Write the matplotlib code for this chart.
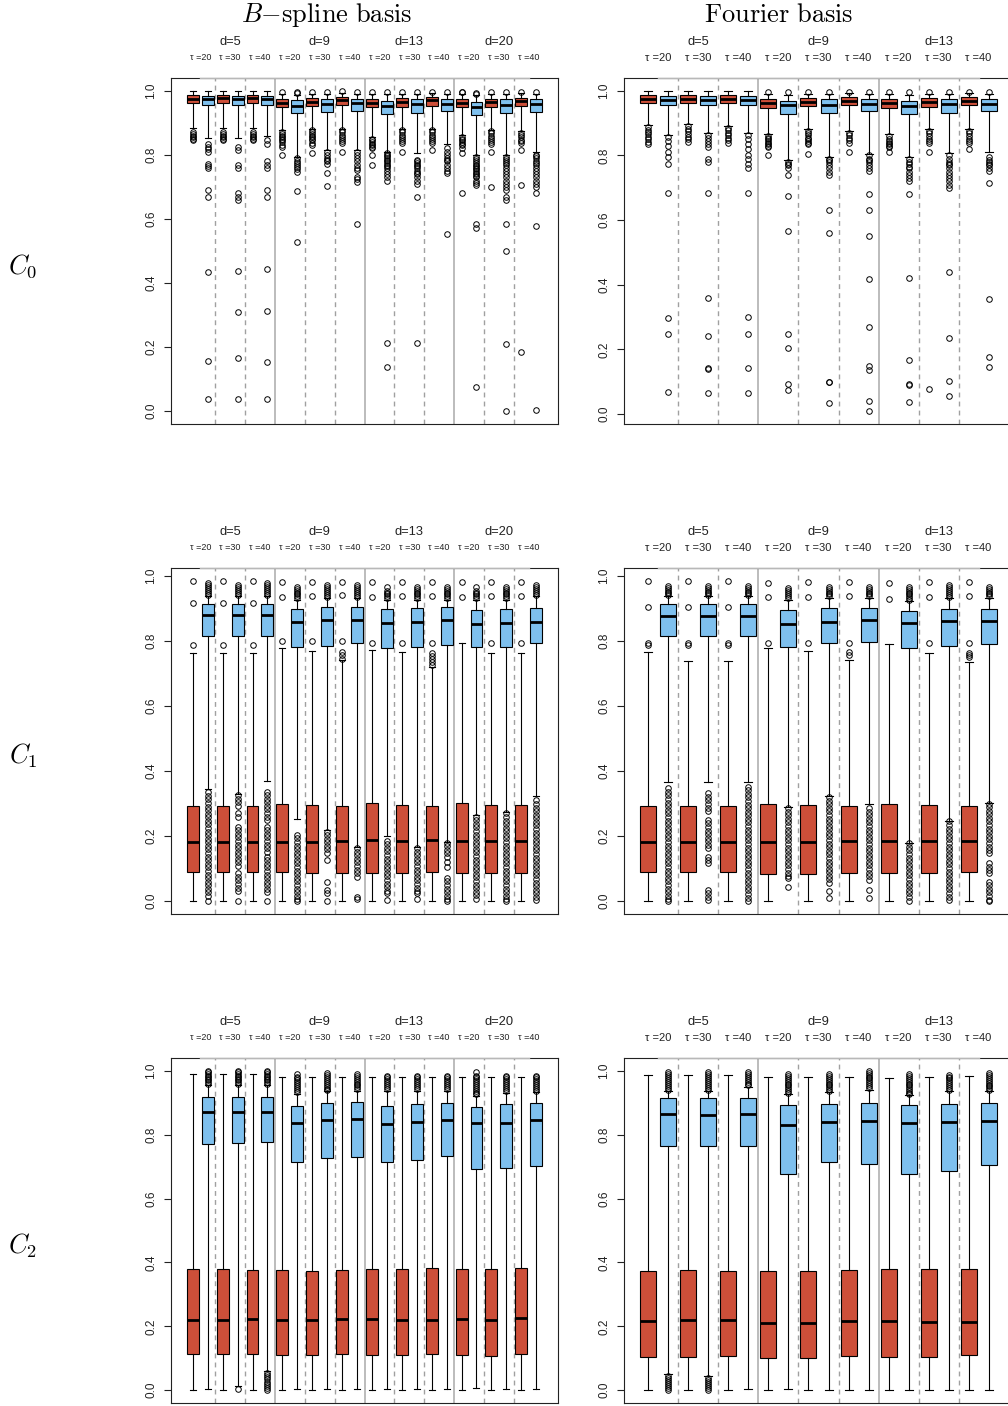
import matplotlib
matplotlib.use("Agg")
import matplotlib.pyplot as plt

plt.rcParams["font.family"] = ["Liberation Sans", "DejaVu Sans"]
plt.rcParams["mathtext.fontset"] = "cm"

RED = "#CD4F39"
BLUE = "#7EC0EE"

D_BSPLINE = [5, 9, 13, 20]
D_FOURIER = [5, 9, 13]
TAUS = [20, 30, 40]
ROW_LABELS = [r"$C_0$", r"$C_1$", r"$C_2$"]
TITLES = [r"$B\mathrm{-spline\ basis}$", r"$\mathrm{Fourier\ basis}$"]

# box stats per (d, tau) group: (whisker low, q1, median, q3, whisker high)
# ---------------- C0 ----------------
C0_BS_RED = [
    (0.884, 0.963, 0.976, 0.988, 1.0), (0.884, 0.963, 0.977, 0.988, 1.0), (0.884, 0.963, 0.977, 0.988, 1.0),
    (0.877, 0.948, 0.961, 0.974, 0.99), (0.882, 0.952, 0.965, 0.979, 0.99), (0.882, 0.955, 0.970, 0.981, 0.992),
    (0.856, 0.948, 0.962, 0.974, 0.99), (0.882, 0.950, 0.966, 0.978, 0.99), (0.882, 0.953, 0.970, 0.981, 0.992),
    (0.861, 0.948, 0.962, 0.973, 0.99), (0.877, 0.950, 0.965, 0.976, 0.99), (0.874, 0.952, 0.967, 0.979, 0.992),
]
C0_BS_RED_OUT = [
    [0.872, 0.866, 0.86, 0.855, 0.85, 0.845],
    [0.872, 0.866, 0.86, 0.855, 0.85, 0.845],
    [0.872, 0.866, 0.86, 0.855, 0.85, 0.845],
    [0.997, 0.872, 0.866, 0.86, 0.855, 0.85, 0.845, 0.84, 0.832, 0.825, 0.80],
    [0.996, 0.877, 0.87, 0.865, 0.86, 0.855, 0.85, 0.845, 0.838, 0.832, 0.806],
    [0.998, 0.877, 0.87, 0.863, 0.856, 0.85, 0.843, 0.836, 0.81],
    [0.996, 0.85, 0.845, 0.84, 0.835, 0.83, 0.825, 0.82, 0.80, 0.768],
    [0.996, 0.877, 0.87, 0.863, 0.856, 0.85, 0.843, 0.836, 0.81],
    [0.997, 0.877, 0.87, 0.863, 0.856, 0.85, 0.843, 0.836, 0.815],
    [0.997, 0.995, 0.856, 0.85, 0.845, 0.84, 0.835, 0.83, 0.82, 0.805, 0.68],
    [0.997, 0.875, 0.868, 0.86, 0.853, 0.846, 0.84, 0.835, 0.81, 0.70],
    [0.997, 0.869, 0.862, 0.855, 0.848, 0.842, 0.836, 0.815, 0.706, 0.184],
]
C0_BS_BLUE = [
    (0.854, 0.955, 0.973, 0.984, 1.0), (0.854, 0.955, 0.973, 0.984, 1.0), (0.858, 0.955, 0.973, 0.984, 1.0),
    (0.794, 0.931, 0.952, 0.970, 0.986), (0.815, 0.934, 0.958, 0.974, 0.99), (0.815, 0.937, 0.963, 0.976, 0.99),
    (0.81, 0.929, 0.952, 0.968, 0.99), (0.805, 0.932, 0.958, 0.974, 0.99), (0.834, 0.937, 0.960, 0.976, 0.99),
    (0.80, 0.926, 0.951, 0.965, 0.988), (0.80, 0.931, 0.957, 0.973, 0.99), (0.81, 0.934, 0.960, 0.973, 0.99),
]
C0_BS_BLUE_OUT = [
    [0.834, 0.826, 0.818, 0.81, 0.773, 0.765, 0.758, 0.69, 0.67, 0.435, 0.157, 0.037],
    [0.825, 0.815, 0.77, 0.76, 0.68, 0.67, 0.66, 0.439, 0.309, 0.165, 0.037],
    [0.845, 0.835, 0.78, 0.77, 0.76, 0.69, 0.67, 0.443, 0.314, 0.153, 0.037],
    [0.996, 0.993, 0.789, 0.782, 0.776, 0.77, 0.762, 0.755, 0.747, 0.688, 0.528],
    [0.995, 0.81, 0.80, 0.79, 0.785, 0.78, 0.773, 0.742, 0.704],
    [0.996, 0.81, 0.80, 0.79, 0.78, 0.77, 0.76, 0.753, 0.732, 0.724, 0.716, 0.585],
    [0.995, 0.805, 0.80, 0.795, 0.79, 0.785, 0.78, 0.775, 0.77, 0.765, 0.76, 0.75, 0.74, 0.73, 0.72, 0.214, 0.139],
    [0.995, 0.784, 0.78, 0.775, 0.77, 0.765, 0.76, 0.75, 0.745, 0.74, 0.73, 0.72, 0.71, 0.667, 0.214],
    [0.995, 0.82, 0.81, 0.80, 0.79, 0.785, 0.78, 0.77, 0.76, 0.75, 0.742, 0.552],
    [0.993, 0.99, 0.794, 0.788, 0.78, 0.775, 0.77, 0.765, 0.76, 0.755, 0.75, 0.745, 0.74, 0.735, 0.73,
     0.72, 0.712, 0.706, 0.585, 0.571, 0.076],
    [0.995, 0.794, 0.788, 0.78, 0.775, 0.77, 0.76, 0.75, 0.74, 0.73, 0.72, 0.71, 0.70, 0.69, 0.667, 0.66,
     0.585, 0.50, 0.21, 0.0],
    [0.995, 0.80, 0.795, 0.79, 0.78, 0.775, 0.77, 0.76, 0.75, 0.74, 0.73, 0.72, 0.71, 0.70, 0.68, 0.578, 0.003],
]
C0_FO_RED = [
    (0.893, 0.963, 0.976, 0.986, 1.0), (0.898, 0.963, 0.976, 0.986, 1.0), (0.89, 0.963, 0.976, 0.986, 1.0),
    (0.866, 0.948, 0.962, 0.974, 0.99), (0.882, 0.952, 0.966, 0.979, 0.99), (0.876, 0.955, 0.970, 0.981, 0.992),
    (0.866, 0.948, 0.962, 0.974, 0.99), (0.882, 0.950, 0.966, 0.979, 0.99), (0.882, 0.955, 0.970, 0.981, 0.992),
]
C0_FO_RED_OUT = [
    [0.888, 0.88, 0.872, 0.865, 0.858, 0.85, 0.843, 0.836],
    [0.89, 0.882, 0.875, 0.866, 0.858, 0.85, 0.842],
    [0.885, 0.878, 0.87, 0.862, 0.855, 0.848, 0.84],
    [0.996, 0.86, 0.855, 0.85, 0.845, 0.84, 0.835, 0.83, 0.825, 0.80],
    [0.997, 0.877, 0.87, 0.862, 0.855, 0.85, 0.845, 0.84, 0.835, 0.806],
    [0.997, 0.87, 0.862, 0.855, 0.848, 0.84, 0.81],
    [0.996, 0.86, 0.85, 0.845, 0.84, 0.835, 0.83, 0.825, 0.81],
    [0.997, 0.876, 0.868, 0.86, 0.852, 0.845, 0.838, 0.81, 0.079],
    [0.997, 0.876, 0.868, 0.86, 0.852, 0.845, 0.838, 0.82],
]
C0_FO_BLUE = [
    (0.862, 0.955, 0.973, 0.984, 1.0), (0.869, 0.955, 0.973, 0.984, 1.0), (0.869, 0.955, 0.973, 0.984, 1.0),
    (0.786, 0.929, 0.955, 0.970, 0.988), (0.796, 0.932, 0.957, 0.974, 0.99), (0.805, 0.937, 0.960, 0.974, 0.99),
    (0.794, 0.927, 0.952, 0.970, 0.988), (0.807, 0.932, 0.958, 0.974, 0.99), (0.81, 0.937, 0.960, 0.974, 0.99),
]
C0_FO_BLUE_OUT = [
    [0.856, 0.846, 0.828, 0.81, 0.794, 0.773, 0.685, 0.297, 0.247, 0.068],
    [0.862, 0.855, 0.845, 0.835, 0.825, 0.79, 0.78, 0.685, 0.359, 0.242, 0.143, 0.14, 0.065],
    [0.862, 0.85, 0.835, 0.82, 0.80, 0.79, 0.775, 0.76, 0.685, 0.30, 0.247, 0.144, 0.065],
    [0.996, 0.78, 0.775, 0.77, 0.76, 0.74, 0.675, 0.566, 0.247, 0.203, 0.094, 0.075],
    [0.996, 0.79, 0.785, 0.78, 0.77, 0.76, 0.75, 0.74, 0.631, 0.559, 0.10, 0.098, 0.035],
    [0.996, 0.80, 0.79, 0.785, 0.78, 0.77, 0.76, 0.753, 0.682, 0.631, 0.552, 0.417, 0.268, 0.149, 0.135, 0.04, 0.009],
    [0.996, 0.788, 0.78, 0.775, 0.765, 0.76, 0.75, 0.74, 0.73, 0.72, 0.68, 0.42, 0.168, 0.094, 0.09, 0.038],
    [0.996, 0.80, 0.79, 0.78, 0.775, 0.77, 0.76, 0.75, 0.74, 0.73, 0.72, 0.71, 0.70, 0.439, 0.234, 0.102, 0.055],
    [0.996, 0.794, 0.785, 0.78, 0.775, 0.77, 0.76, 0.753, 0.716, 0.355, 0.177, 0.146],
]

# ---------------- C1 ----------------
C1_BS_RED = [
    (0.0, 0.089, 0.181, 0.293, 0.762), (0.0, 0.089, 0.181, 0.293, 0.762), (0.0, 0.089, 0.181, 0.293, 0.762),
    (0.0, 0.089, 0.183, 0.298, 0.779), (0.0, 0.086, 0.183, 0.296, 0.769), (0.0, 0.086, 0.186, 0.293, 0.741),
    (0.0, 0.086, 0.188, 0.301, 0.772), (0.0, 0.086, 0.186, 0.296, 0.765), (0.0, 0.089, 0.188, 0.293, 0.721),
    (0.0, 0.086, 0.186, 0.301, 0.793), (0.0, 0.086, 0.186, 0.296, 0.764), (0.0, 0.086, 0.186, 0.296, 0.762),
]
C1_BS_RED_OUT = [
    [0.984, 0.918, 0.788], [0.985, 0.918, 0.788], [0.985, 0.918, 0.788],
    [0.98, 0.936, 0.80], [0.982, 0.939, 0.80], [0.982, 0.941, 0.80, 0.767, 0.757, 0.746],
    [0.98, 0.934, 0.793], [0.982, 0.937, 0.795], [0.982, 0.937, 0.795, 0.764, 0.755, 0.745, 0.735, 0.726],
    [0.98, 0.934], [0.98, 0.937, 0.795], [0.982, 0.937, 0.795],
]
C1_BS_BLUE = [
    (0.344, 0.816, 0.880, 0.915, 0.938), (0.330, 0.816, 0.880, 0.915, 0.938), (0.371, 0.816, 0.880, 0.915, 0.938),
    (0.254, 0.782, 0.857, 0.897, 0.927), (0.219, 0.786, 0.863, 0.903, 0.932), (0.168, 0.793, 0.866, 0.903, 0.932),
    (0.199, 0.777, 0.854, 0.897, 0.927), (0.168, 0.780, 0.859, 0.900, 0.927), (0.183, 0.788, 0.864, 0.903, 0.927),
    (0.265, 0.780, 0.852, 0.895, 0.927), (0.275, 0.782, 0.856, 0.897, 0.927), (0.324, 0.793, 0.859, 0.900, 0.938),
]
C1_BS_BLUE_OUT = [
    [0.977, 0.971, 0.965, 0.959, 0.953, 0.947, 0.942,
     0.335, 0.324, 0.313, 0.302, 0.291, 0.28, 0.269, 0.258, 0.247, 0.236, 0.225, 0.214, 0.203, 0.192, 0.181,
     0.17, 0.159, 0.148, 0.137, 0.126, 0.115, 0.104, 0.093, 0.082, 0.071, 0.06, 0.049, 0.038, 0.027, 0.016, 0.0],
    [0.972, 0.966, 0.96, 0.954, 0.948, 0.942,
     0.326, 0.315, 0.304, 0.293, 0.27, 0.258, 0.229, 0.218, 0.207, 0.196, 0.185, 0.174, 0.163, 0.152, 0.141,
     0.13, 0.119, 0.108, 0.086, 0.075, 0.064, 0.053, 0.042, 0.031, 0.0],
    [0.977, 0.971, 0.965, 0.959, 0.953, 0.947, 0.942,
     0.337, 0.326, 0.315, 0.304, 0.293, 0.282, 0.271, 0.26, 0.25, 0.229, 0.218, 0.207, 0.196, 0.185, 0.174,
     0.163, 0.152, 0.137, 0.126, 0.115, 0.104, 0.093, 0.082, 0.071, 0.06, 0.049, 0.038, 0.027, 0.0],
    [0.967, 0.961, 0.955, 0.949, 0.943, 0.937, 0.931,
     0.204, 0.193, 0.182, 0.171, 0.16, 0.149, 0.138, 0.127, 0.116, 0.105, 0.094, 0.083, 0.072, 0.061, 0.05,
     0.039, 0.028, 0.017, 0.006, 0.0],
    [0.972, 0.966, 0.96, 0.954, 0.948, 0.942, 0.936,
     0.214, 0.203, 0.192, 0.181, 0.17, 0.159, 0.148, 0.128, 0.06, 0.035, 0.025, 0.0],
    [0.972, 0.966, 0.96, 0.954, 0.948, 0.942, 0.936,
     0.163, 0.152, 0.141, 0.13, 0.119, 0.108, 0.097, 0.086, 0.075, 0.014, 0.006],
    [0.967, 0.955, 0.949, 0.943, 0.937, 0.931,
     0.186, 0.175, 0.164, 0.153, 0.142, 0.131, 0.12, 0.109, 0.098, 0.087, 0.076, 0.065, 0.054, 0.043, 0.032,
     0.025, 0.004],
    [0.967, 0.961, 0.955, 0.949, 0.943, 0.937, 0.931,
     0.163, 0.152, 0.141, 0.13, 0.119, 0.108, 0.097, 0.086, 0.075, 0.064, 0.053, 0.042, 0.031, 0.025, 0.006],
    [0.967, 0.961, 0.955, 0.949, 0.943, 0.937, 0.931,
     0.18, 0.169, 0.158, 0.147, 0.136, 0.12, 0.105, 0.072, 0.061, 0.05, 0.039, 0.028, 0.017, 0.006, 0.0],
    [0.967, 0.955, 0.949, 0.943, 0.937, 0.931,
     0.26, 0.249, 0.238, 0.227, 0.216, 0.205, 0.194, 0.183, 0.172, 0.161, 0.15, 0.139, 0.128, 0.117, 0.106,
     0.095, 0.084, 0.073, 0.062, 0.051, 0.04, 0.029, 0.018, 0.008],
    [0.967, 0.961, 0.955, 0.949, 0.943, 0.937, 0.931,
     0.27, 0.259, 0.248, 0.237, 0.226, 0.215, 0.204, 0.193, 0.182, 0.171, 0.16, 0.149, 0.138, 0.127, 0.116,
     0.105, 0.094, 0.083, 0.072, 0.061, 0.05, 0.039, 0.028, 0.017, 0.006, 0.0],
    [0.972, 0.966, 0.96, 0.955, 0.948, 0.942,
     0.31, 0.299, 0.288, 0.277, 0.266, 0.255, 0.244, 0.233, 0.222, 0.211, 0.2, 0.189, 0.178, 0.167, 0.156,
     0.145, 0.134, 0.123, 0.112, 0.101, 0.09, 0.079, 0.068, 0.057, 0.046, 0.035, 0.024, 0.013, 0.004],
]
C1_FO_RED = [
    (0.0, 0.089, 0.181, 0.293, 0.767), (0.0, 0.089, 0.181, 0.293, 0.739), (0.0, 0.089, 0.181, 0.293, 0.739),
    (0.0, 0.084, 0.183, 0.298, 0.777), (0.0, 0.084, 0.183, 0.295, 0.770), (0.0, 0.086, 0.185, 0.293, 0.741),
    (0.0, 0.086, 0.185, 0.298, 0.790), (0.0, 0.086, 0.185, 0.295, 0.762), (0.0, 0.089, 0.186, 0.293, 0.736),
]
C1_FO_RED_OUT = [
    [0.985, 0.905, 0.795, 0.788], [0.985, 0.905, 0.795, 0.788], [0.985, 0.905, 0.795, 0.788],
    [0.977, 0.934, 0.795], [0.98, 0.936, 0.795], [0.98, 0.938, 0.795, 0.767, 0.757],
    [0.977, 0.93], [0.98, 0.934, 0.793], [0.98, 0.937, 0.793, 0.764, 0.758, 0.752],
]
C1_FO_BLUE = [
    (0.365, 0.814, 0.878, 0.913, 0.938), (0.365, 0.814, 0.878, 0.913, 0.938), (0.365, 0.814, 0.878, 0.913, 0.938),
    (0.289, 0.780, 0.852, 0.895, 0.927), (0.322, 0.793, 0.859, 0.900, 0.932), (0.298, 0.796, 0.864, 0.902, 0.932),
    (0.180, 0.777, 0.854, 0.893, 0.922), (0.247, 0.785, 0.860, 0.897, 0.932), (0.303, 0.790, 0.862, 0.897, 0.932),
]
C1_FO_BLUE_OUT = [
    [0.97, 0.964, 0.958, 0.952, 0.946, 0.94,
     0.347, 0.336, 0.325, 0.314, 0.303, 0.292, 0.281, 0.27, 0.259, 0.248, 0.237, 0.226, 0.215, 0.204, 0.193,
     0.182, 0.171, 0.16, 0.149, 0.138, 0.127, 0.116, 0.105, 0.094, 0.083, 0.072, 0.061, 0.05, 0.039, 0.028,
     0.017, 0.006, 0.0],
    [0.97, 0.964, 0.958, 0.952, 0.946, 0.94,
     0.332, 0.321, 0.31, 0.299, 0.288, 0.277, 0.25, 0.239, 0.228, 0.217, 0.206, 0.195, 0.184, 0.173, 0.162,
     0.137, 0.127, 0.117, 0.035, 0.024, 0.014, 0.004],
    [0.97, 0.964, 0.958, 0.952, 0.946, 0.94,
     0.352, 0.341, 0.33, 0.319, 0.308, 0.297, 0.286, 0.275, 0.264, 0.253, 0.242, 0.231, 0.22, 0.209, 0.198,
     0.187, 0.176, 0.165, 0.154, 0.143, 0.132, 0.121, 0.11, 0.099, 0.088, 0.077, 0.066, 0.055, 0.044, 0.033,
     0.022, 0.011, 0.0],
    [0.962, 0.956, 0.95, 0.944, 0.938, 0.932,
     0.286, 0.275, 0.264, 0.253, 0.242, 0.231, 0.22, 0.209, 0.198, 0.187, 0.176, 0.165, 0.154, 0.143, 0.132,
     0.121, 0.11, 0.099, 0.088, 0.077, 0.07, 0.045],
    [0.967, 0.961, 0.955, 0.949, 0.943, 0.937,
     0.32, 0.309, 0.298, 0.287, 0.276, 0.265, 0.254, 0.243, 0.232, 0.221, 0.21, 0.199, 0.188, 0.177, 0.166,
     0.155, 0.144, 0.133, 0.122, 0.111, 0.1, 0.089, 0.078, 0.067, 0.055, 0.03, 0.01],
    [0.967, 0.961, 0.955, 0.949, 0.943, 0.937,
     0.286, 0.275, 0.264, 0.253, 0.242, 0.231, 0.22, 0.209, 0.198, 0.187, 0.176, 0.165, 0.154, 0.143, 0.132,
     0.121, 0.11, 0.099, 0.088, 0.077, 0.066, 0.035, 0.01],
    [0.967, 0.961, 0.955, 0.949, 0.943, 0.937, 0.931, 0.925,
     0.178, 0.167, 0.156, 0.145, 0.134, 0.123, 0.112, 0.101, 0.09, 0.079, 0.068, 0.057, 0.046, 0.035, 0.024,
     0.013, 0.002],
    [0.972, 0.966, 0.96, 0.954, 0.948, 0.942, 0.936,
     0.245, 0.234, 0.223, 0.212, 0.201, 0.19, 0.179, 0.168, 0.157, 0.146, 0.135, 0.124, 0.113, 0.102, 0.091,
     0.08, 0.069, 0.058, 0.047, 0.036, 0.025, 0.014, 0.004],
    [0.967, 0.961, 0.955, 0.949, 0.943, 0.937,
     0.30, 0.289, 0.278, 0.267, 0.256, 0.245, 0.234, 0.223, 0.212, 0.201, 0.19, 0.179, 0.168, 0.157, 0.147,
     0.117, 0.106, 0.096, 0.086, 0.06, 0.049, 0.038, 0.027, 0.016, 0.005, 0.0],
]

# ---------------- C2 ----------------
C2_BS_RED = [
    (0.0, 0.114, 0.221, 0.378, 0.99), (0.0, 0.114, 0.221, 0.378, 0.99), (0.0, 0.112, 0.223, 0.376, 0.99),
    (0.0, 0.110, 0.221, 0.375, 0.98), (0.0, 0.110, 0.221, 0.374, 0.981), (0.0, 0.114, 0.223, 0.377, 0.982),
    (0.0, 0.109, 0.223, 0.379, 0.98), (0.0, 0.111, 0.219, 0.379, 0.981), (0.0, 0.114, 0.221, 0.382, 0.982),
    (0.0, 0.109, 0.223, 0.379, 0.98), (0.0, 0.108, 0.219, 0.379, 0.981), (0.0, 0.112, 0.225, 0.382, 0.982),
]
C2_BS_RED_OUT = [[] for _ in range(12)]
C2_BS_BLUE = [
    (0.003, 0.770, 0.870, 0.919, 0.955), (0.012, 0.773, 0.870, 0.919, 0.955), (0.06, 0.776, 0.870, 0.919, 0.955),
    (0.003, 0.716, 0.838, 0.891, 0.926), (0.003, 0.726, 0.845, 0.898, 0.936), (0.005, 0.729, 0.848, 0.902, 0.936),
    (0.003, 0.716, 0.833, 0.890, 0.938), (0.003, 0.721, 0.841, 0.897, 0.938), (0.003, 0.734, 0.845, 0.898, 0.938),
    (0.008, 0.691, 0.837, 0.888, 0.921), (0.003, 0.695, 0.838, 0.895, 0.931), (0.005, 0.702, 0.845, 0.898, 0.934),
]
C2_BS_BLUE_OUT = [
    [1.0, 0.995, 0.99, 0.985, 0.98, 0.975, 0.97, 0.965, 0.96],
    [1.0, 0.995, 0.99, 0.985, 0.98, 0.975, 0.97, 0.965, 0.96, 0.005],
    [1.0, 0.995, 0.99, 0.985, 0.98, 0.975, 0.97, 0.965, 0.96,
     0.055, 0.048, 0.041, 0.034, 0.027, 0.02, 0.013, 0.006, 0.002],
    [0.99, 0.982, 0.976, 0.97, 0.964, 0.958, 0.952, 0.946, 0.94, 0.934],
    [0.993, 0.986, 0.98, 0.974, 0.968, 0.962, 0.956, 0.95, 0.944, 0.94],
    [0.99, 0.984, 0.978, 0.972, 0.966, 0.96, 0.954, 0.948, 0.942],
    [0.985, 0.979, 0.973, 0.967, 0.961, 0.955, 0.949, 0.943],
    [0.985, 0.979, 0.973, 0.967, 0.961, 0.955, 0.949, 0.943],
    [0.985, 0.979, 0.973, 0.967, 0.961, 0.955, 0.949, 0.943],
    [0.996, 0.985, 0.979, 0.973, 0.967, 0.961, 0.955, 0.949, 0.943, 0.937, 0.931, 0.926],
    [0.985, 0.979, 0.973, 0.967, 0.961, 0.955, 0.949, 0.943, 0.937],
    [0.985, 0.979, 0.973, 0.967, 0.961, 0.955, 0.949, 0.943, 0.938],
]
C2_FO_RED = [
    (0.0, 0.104, 0.218, 0.373, 0.987), (0.0, 0.103, 0.220, 0.375, 0.987), (0.0, 0.106, 0.220, 0.373, 0.987),
    (0.0, 0.101, 0.212, 0.373, 0.979), (0.0, 0.101, 0.212, 0.373, 0.981), (0.0, 0.108, 0.217, 0.377, 0.981),
    (0.0, 0.104, 0.218, 0.378, 0.977), (0.0, 0.104, 0.215, 0.380, 0.981), (0.0, 0.110, 0.215, 0.380, 0.983),
]
C2_FO_RED_OUT = [[] for _ in range(9)]
C2_FO_BLUE = [
    (0.05, 0.766, 0.864, 0.915, 0.938), (0.044, 0.763, 0.862, 0.915, 0.938), (0.005, 0.766, 0.865, 0.915, 0.949),
    (0.005, 0.678, 0.830, 0.892, 0.928), (0.0, 0.714, 0.840, 0.895, 0.933), (0.0, 0.709, 0.843, 0.900, 0.941),
    (0.0, 0.678, 0.835, 0.892, 0.923), (0.0, 0.687, 0.840, 0.897, 0.936), (0.0, 0.706, 0.843, 0.899, 0.938),
]
C2_FO_BLUE_OUT = [
    [0.995, 0.989, 0.983, 0.977, 0.971, 0.965, 0.959, 0.953, 0.947, 0.941,
     0.044, 0.038, 0.032, 0.026, 0.02, 0.014, 0.008, 0.002],
    [0.995, 0.989, 0.983, 0.977, 0.971, 0.965, 0.959, 0.953, 0.947, 0.941,
     0.038, 0.032, 0.026, 0.02, 0.014, 0.008, 0.002],
    [0.995, 0.989, 0.983, 0.977, 0.971, 0.965, 0.959, 0.955],
    [0.99, 0.984, 0.978, 0.972, 0.966, 0.96, 0.954, 0.948, 0.942, 0.936, 0.931],
    [0.99, 0.984, 0.978, 0.972, 0.966, 0.96, 0.954, 0.948, 0.942, 0.936],
    [1.0, 0.994, 0.988, 0.982, 0.976, 0.97, 0.964, 0.958, 0.952, 0.946],
    [0.99, 0.984, 0.978, 0.972, 0.966, 0.96, 0.954, 0.948, 0.942, 0.936, 0.93, 0.926],
    [0.988, 0.982, 0.976, 0.97, 0.964, 0.958, 0.952, 0.946, 0.94],
    [0.993, 0.987, 0.981, 0.975, 0.969, 0.963, 0.957, 0.951, 0.945, 0.941],
]

PANELS = [
    [(D_BSPLINE, C0_BS_RED, C0_BS_RED_OUT, C0_BS_BLUE, C0_BS_BLUE_OUT),
     (D_FOURIER, C0_FO_RED, C0_FO_RED_OUT, C0_FO_BLUE, C0_FO_BLUE_OUT)],
    [(D_BSPLINE, C1_BS_RED, C1_BS_RED_OUT, C1_BS_BLUE, C1_BS_BLUE_OUT),
     (D_FOURIER, C1_FO_RED, C1_FO_RED_OUT, C1_FO_BLUE, C1_FO_BLUE_OUT)],
    [(D_BSPLINE, C2_BS_RED, C2_BS_RED_OUT, C2_BS_BLUE, C2_BS_BLUE_OUT),
     (D_FOURIER, C2_FO_RED, C2_FO_RED_OUT, C2_FO_BLUE, C2_FO_BLUE_OUT)],
]

W, H = 1008, 1406
COL_X = [(171, 387), (624, 389)]           # left edge, width in px
ROW_Y = [(78, 346), (568, 346), (1058, 345)]  # top edge, height in px


def draw_panel(ax, d_values, red, red_out, blue, blue_out, tau_size, h_px):
    n_groups = len(d_values) * len(TAUS)
    n = 2 * n_groups
    stats, colors = [], []
    for g in range(n_groups):
        for st, out, col in ((red[g], red_out[g], RED), (blue[g], blue_out[g], BLUE)):
            lo, q1, med, q3, hi = st
            stats.append(dict(whislo=lo, q1=q1, med=med, q3=q3, whishi=hi, fliers=out))
            colors.append(col)
    pos = list(range(1, n + 1))
    bp = ax.bxp(stats, positions=pos, widths=0.8, patch_artist=True, manage_ticks=False, zorder=2,
                boxprops=dict(edgecolor="black", linewidth=0.8),
                medianprops=dict(color="black", linewidth=2.0, solid_capstyle="butt"),
                whiskerprops=dict(color="black", linewidth=0.8),
                capprops=dict(color="black", linewidth=0.8),
                flierprops=dict(marker="o", markerfacecolor="none", markeredgecolor="black",
                                markersize=4, markeredgewidth=0.7))
    for patch, c in zip(bp["boxes"], colors):
        patch.set_facecolor(c)

    # limits the way R's boxplot picks them (data range plus 4 %)
    vals = [v for s in stats for v in (s["whislo"], s["whishi"], *s["fliers"])]
    lo, hi = min(vals), max(vals)
    pad = 0.04 * (hi - lo)
    ax.set_ylim(lo - pad, hi + pad)
    ax.set_xlim(0.5 - 0.04 * n, n + 0.5 + 0.04 * n)

    # separators: dashed between tau groups, solid between d groups
    for g in range(1, n_groups):
        x = 2 * g + 0.5
        if g % len(TAUS) == 0:
            ax.axvline(x, color="#B0B0B0", linewidth=1.2, zorder=0.5)
        else:
            ax.axvline(x, color="#A0A0A0", linewidth=1.0, linestyle=(0, (3.5, 3)), zorder=0.5)

    # top axis line (grey) over the frame
    ax.plot([1.5, n - 0.5], [1, 1], transform=ax.get_xaxis_transform(), color="#B8B8B8",
            linewidth=1.0, clip_on=False, zorder=5)

    xt = ax.get_xaxis_transform()
    for i, d in enumerate(d_values):
        ax.text(6 * i + 3.5, 1 + 36 / h_px, f"d={d}", transform=xt, ha="center", va="center",
                fontsize=9.3, color="#222222")
    for g in range(n_groups):
        ax.text(2 * g + 1.5, 1 + 20 / h_px, f"τ ={TAUS[g % len(TAUS)]}", transform=xt,
                ha="center", va="center", fontsize=tau_size, color="#222222")

    ax.set_xticks([])
    ticks = [0.0, 0.2, 0.4, 0.6, 0.8, 1.0]
    ax.set_yticks(ticks)
    ax.set_yticklabels([f"{t:.1f}" for t in ticks], rotation=90, va="center", fontsize=8.5, color="#222222")
    ax.tick_params(axis="y", length=5, width=0.8, pad=5, color="#222222")
    for sp in ax.spines.values():
        sp.set_linewidth(0.8)
        sp.set_color("#222222")


fig = plt.figure(figsize=(W / 100, H / 100), dpi=100)
for r, (top, hpx) in enumerate(ROW_Y):
    for c, (left, wpx) in enumerate(COL_X):
        ax = fig.add_axes([left / W, 1 - (top + hpx) / H, wpx / W, hpx / H])
        d_values, red, red_out, blue, blue_out = PANELS[r][c]
        draw_panel(ax, d_values, red, red_out, blue, blue_out, 6.5 if c == 0 else 8, hpx)
    fig.text(23 / W, 1 - (top + 188) / H, ROW_LABELS[r], ha="center", va="center", fontsize=19)

fig.text(327 / W, 1 - 15 / H, TITLES[0], ha="center", va="center", fontsize=19)
fig.text(779 / W, 1 - 15 / H, TITLES[1], ha="center", va="center", fontsize=19)

fig.savefig("out.png", dpi=100)
